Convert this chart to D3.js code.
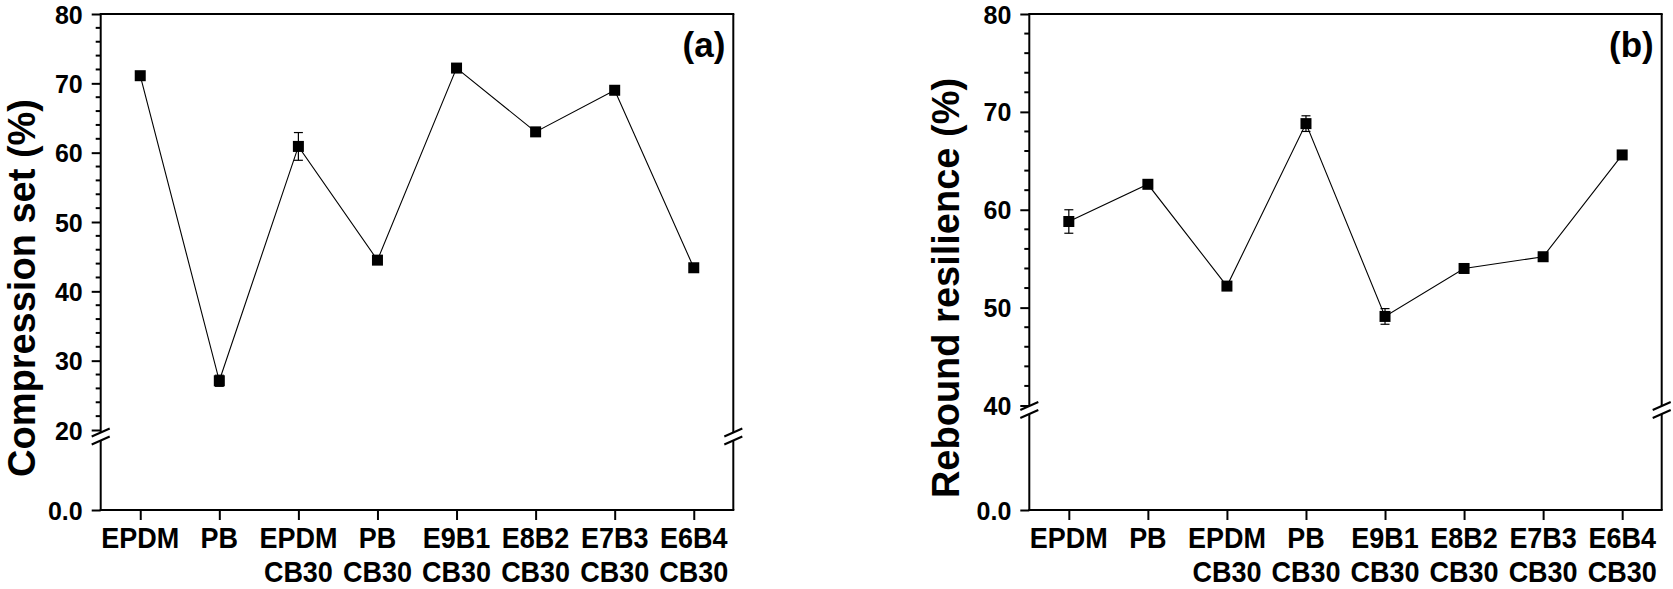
<!DOCTYPE html>
<html>
<head>
<meta charset="utf-8">
<script src="https://cdn.jsdelivr.net/npm/d3@7/dist/d3.min.js"></script>
<style>
  html, body { margin: 0; padding: 0; background: #fff; }
  svg { display: block; }
  text { font-family: "Liberation Sans", Arial, sans-serif; font-weight: bold; fill: #000; }
</style>
</head>
<body>
<svg id="chart" width="1673" height="589"></svg>
<script>
// ---- data ----
const catLine1 = ["EPDM", "PB", "EPDM", "PB", "E9B1", "E8B2", "E7B3", "E6B4"];
const catLine2 = ["", "", "CB30", "CB30", "CB30", "CB30", "CB30", "CB30"];
const compressionSet = [71.1, 27.1, 60.9, 44.5, 72.2, 63.0, 69.0, 43.4];
const compressionErr = [0.4, 0.8, 2.0, 0.3, 0.3, 0.3, 0.3, 0.3];
const resilience = [58.8, 62.6, 52.2, 68.8, 49.1, 54.0, 55.2, 65.6];
const resilienceErr = [1.2, 0.3, 0.3, 0.8, 0.8, 0.2, 0.3, 0.3];
const ticksA = [20, 30, 40, 50, 60, 70, 80];
const ticksB = [40, 50, 60, 70, 80];
const lowTick = [0];

const svg = d3.select("#chart");

function drawPanel(cfg) {
  const g = svg.append("g");
  const x = d3.scaleLinear().domain([-0.5, 7.5]).range([cfg.left, cfg.right]);
  const yU = d3.scaleLinear().domain([cfg.yMin, 80]).range([cfg.yMinPx, cfg.top]);
  const yL = d3.scaleLinear().domain([0, 1]).range([cfg.bottom, cfg.bottom - 5]);
  const brk = cfg.breakY;
  const gapHalf = 4;

  // frame
  const frame = g.append("g").attr("stroke", "#000").attr("stroke-width", 2).attr("fill", "none");
  frame.append("line").attr("x1", cfg.left - 1).attr("x2", cfg.right + 1).attr("y1", cfg.top).attr("y2", cfg.top);
  frame.append("line").attr("x1", cfg.left - 1).attr("x2", cfg.right + 1).attr("y1", cfg.bottom).attr("y2", cfg.bottom);
  [cfg.left, cfg.right].forEach(ax => {
    frame.append("line").attr("x1", ax).attr("x2", ax).attr("y1", cfg.top).attr("y2", brk - gapHalf);
    frame.append("line").attr("x1", ax).attr("x2", ax).attr("y1", brk + gapHalf).attr("y2", cfg.bottom);
    // break slashes
    [-gapHalf, gapHalf].forEach(off => {
      frame.append("line")
        .attr("x1", ax - 9).attr("y1", brk + off + 4)
        .attr("x2", ax + 9).attr("y2", brk + off - 4);
    });
  });

  // minor ticks
  const minorVals = d3.range(cfg.yMin, 80.01, 2).filter(v => !cfg.majors.includes(v));
  g.append("g").selectAll("line").data(minorVals).join("line")
    .attr("x1", cfg.left - 5).attr("x2", cfg.left)
    .attr("y1", d => yU(d)).attr("y2", d => yU(d))
    .attr("stroke", "#000").attr("stroke-width", 2);

  // major y ticks (upper segment)
  const yAxisU = d3.axisLeft(yU).tickValues(cfg.majors).tickSize(9).tickPadding(9).tickFormat(d3.format("d"));
  const ga = g.append("g").attr("transform", `translate(${cfg.left},0)`).call(yAxisU);
  ga.select(".domain").remove();
  ga.selectAll(".tick line").attr("stroke-width", 2);
  ga.selectAll(".tick text").style("font-size", "25px").attr("dy", "0.36em");

  // lower segment tick "0.0"
  const yAxisL = d3.axisLeft(yL).tickValues(lowTick).tickSize(9).tickPadding(9).tickFormat(d3.format(".1f"));
  const gl = g.append("g").attr("transform", `translate(${cfg.left},0)`).call(yAxisL);
  gl.select(".domain").remove();
  gl.selectAll(".tick line").attr("stroke-width", 2);
  gl.selectAll(".tick text").style("font-size", "25px").attr("dy", "0.36em");

  // x ticks
  const xAxis = d3.axisBottom(x).tickValues(d3.range(catLine1.length)).tickSize(10).tickFormat("");
  const gx = g.append("g").attr("transform", `translate(0,${cfg.bottom})`).call(xAxis);
  gx.select(".domain").remove();
  gx.selectAll(".tick line").attr("stroke-width", 2);

  // x labels (two lines)
  const lab = g.append("g").selectAll("g").data(catLine1.map((c, i) => ({c1: c, c2: catLine2[i], i})))
    .join("g")
    .attr("transform", d => `translate(${x(d.i)},0) scale(0.9,1)`);
  lab.append("text").attr("y", 548).attr("text-anchor", "middle").style("font-size", "30px").text(d => d.c1);
  lab.append("text").attr("y", 582).attr("text-anchor", "middle").style("font-size", "30px").text(d => d.c2);

  // y title
  g.append("text")
    .attr("transform", `translate(${cfg.titleX},${cfg.titleY}) rotate(-90)`)
    .attr("text-anchor", "middle")
    .style("font-size", "38px")
    .text(cfg.title);

  // panel label
  g.append("text").attr("x", cfg.right - 8).attr("y", 57).attr("text-anchor", "end")
    .style("font-size", "35px").text(cfg.label);

  // data line
  const pts = cfg.values.map((v, i) => [x(i), yU(v)]);
  g.append("path").datum(pts)
    .attr("d", d3.line())
    .attr("fill", "none").attr("stroke", "#000").attr("stroke-width", 1.1);

  // error bars
  const eb = g.append("g").attr("stroke", "#000").attr("stroke-width", 1.2);
  cfg.values.forEach((v, i) => {
    const e = cfg.errs[i];
    const cx = x(i);
    eb.append("line").attr("x1", cx).attr("x2", cx).attr("y1", yU(v - e)).attr("y2", yU(v + e));
    [v - e, v + e].forEach(t => {
      eb.append("line").attr("x1", cx - 4.5).attr("x2", cx + 4.5).attr("y1", yU(t)).attr("y2", yU(t));
    });
  });

  // markers
  const ms = 11;
  g.append("g").selectAll("rect").data(cfg.values).join("rect")
    .attr("x", (d, i) => x(i) - ms / 2)
    .attr("y", d => yU(d) - ms / 2)
    .attr("width", ms).attr("height", ms)
    .attr("fill", "#000");
}

drawPanel({
  left: 100.7, right: 733.3, top: 14, bottom: 510,
  yMin: 20, yMinPx: 430, breakY: 436.5, majors: ticksA,
  values: compressionSet, errs: compressionErr,
  title: "Compression set (%)", titleX: 35, titleY: 288, label: "(a)"
});

drawPanel({
  left: 1029.3, right: 1661.7, top: 14, bottom: 510,
  yMin: 40, yMinPx: 405.5, breakY: 410, majors: ticksB,
  values: resilience, errs: resilienceErr,
  title: "Rebound resilience (%)", titleX: 959, titleY: 288, label: "(b)"
});
</script>
</body>
</html>
